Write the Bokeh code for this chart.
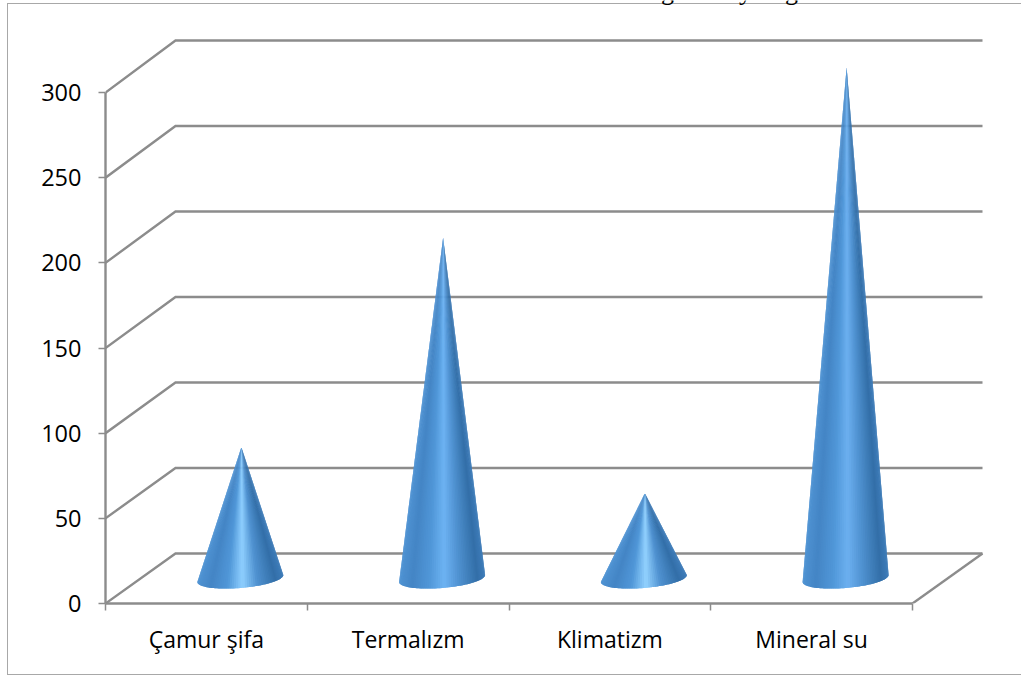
import numpy as np
from bokeh.core.properties import value
from bokeh.embed import file_html
from bokeh.models import FixedTicker, LinearAxis, Range1d
from bokeh.plotting import figure
from bokeh.resources import INLINE

# Chart data
categories = ["Çamur şifa", "Termalızm", "Klimatizm", "Mineral su"]
counts = [77, 200, 50, 300]
y_ticks = [0, 50, 100, 150, 200, 250, 300]
heading_letters = ["g", "y", "g"]

# Scale of the plot area
PX_X = 201.75
PX_Y = 511 / 300
W, H = 1021, 675
LEFT, BOTTOM = 105, 603
GRID = "#8c8c8c"
FRAME = "#a8a8a8"

# Depth of the pseudo-3D box, in data units; the back wall is drawn a touch taller
DX = 70 / PX_X
DY = 50 / PX_Y
BACK = 513 / 511

# Highlight colour of each cone; short cones catch more light
peaks = ["#8ecfff", "#6db3f3", "#92d2ff", "#6cb0f0"]


def hex_rgb(c):
    return np.array([int(c[i:i + 2], 16) for i in (1, 3, 5)], float)


def shade(t, peak):
    stops = [-1.0, -0.7, -0.3, 0.05, 0.4, 0.82, 1.0]
    cols = ["#4f93d3", "#4485c5", "#5097d8", peak, "#4f91d0", "#336fa8", "#3e7cb9"]
    rgb = np.array([hex_rgb(c) for c in cols])
    r = [np.interp(t, stops, rgb[:, k]) for k in range(3)]
    return "#%02x%02x%02x" % tuple(int(round(v)) for v in r)


# Thin chart frame behind the transparent canvas, open on the right
def bar(x, y, w, h):
    return f"linear-gradient({FRAME},{FRAME}) {x}px {y}px / {w}px {h}px no-repeat"


frame_css = ", ".join([
    bar(7, 3, W - 7, 1),
    bar(7, 674, W - 7, 1),
    bar(7, 3, 1, 671),
])

p = figure(
    width=W, height=H, output_backend="svg", toolbar_location=None,
    x_range=Range1d(0, (W - LEFT) / PX_X), y_range=Range1d(0, BOTTOM / PX_Y),
    x_axis_location=None, y_axis_location=None,
    min_border_left=LEFT, min_border_right=0, min_border_top=0, min_border_bottom=H - BOTTOM,
    outline_line_color=None, background_fill_color=None, border_fill_color=None,
    styles={"background": frame_css},
)
p.grid.visible = False

# Walls and floor of the box
n_cat = len(categories)
xs, ys = [], []
for v in y_ticks:
    xs.append([0, DX, n_cat + DX])
    ys.append([v, v * BACK + DY, v * BACK + DY])
xs.append([n_cat, n_cat + DX])
ys.append([0, DY])
p.multi_line(xs, ys, line_color=GRID, line_width=2.4, line_join="miter")

# Cones: overlapping fan of slices from the apex to the lower rim of the base ellipse
A, TILT, B = 43 / PX_X, 3.5 / PX_Y, 9.5 / PX_Y
SHIFT = 1 / PX_X
angles = np.linspace(0, np.pi, 61)
for i, v in enumerate(counts):
    cx = i + 0.5 + DX / 2
    cy = DY / 2
    base_x = cx - SHIFT
    rim_x = base_x + A * np.cos(angles)
    rim_y = cy + TILT * np.cos(angles) - B * np.sin(angles)
    sx, sy, colors = [], [], []
    for j in range(len(angles) - 1):
        k = min(j + 3, len(angles))
        sx.append([cx] + list(rim_x[j:k]))
        sy.append([v + cy] + list(rim_y[j:k]))
        colors.append(shade(((rim_x[j] + rim_x[j + 1]) / 2 - base_x) / A, peaks[i]))
    p.patches(sx, sy, fill_color=colors, line_color=None)

# Value axis
ya = LinearAxis(ticker=FixedTicker(ticks=y_ticks), bounds=(0, 300))
ya.axis_line_color = GRID
ya.axis_line_width = 2.4
ya.major_tick_line_color = GRID
ya.major_tick_line_width = 1.5
ya.major_tick_out = 7
ya.major_tick_in = 0
ya.minor_tick_line_color = None
ya.major_label_standoff = 17
ya.major_label_text_font = "Open Sans"
ya.major_label_text_font_size = "23.5px"
ya.major_label_text_color = "black"
p.add_layout(ya, "left")

# Category axis: ticks sit between categories, labels at their centres
centres = [i + 0.5 for i in range(n_cat)]
xa = LinearAxis(
    ticker=FixedTicker(ticks=centres, minor_ticks=list(range(n_cat + 1))),
    major_label_overrides=dict(zip(centres, categories)),
    bounds=(0, n_cat),
)
xa.axis_line_color = GRID
xa.axis_line_width = 2.4
xa.major_tick_line_color = None
xa.minor_tick_line_color = GRID
xa.minor_tick_line_width = 1.5
xa.minor_tick_out = 7
xa.minor_tick_in = 0
xa.major_label_standoff = 12
xa.major_label_text_font = "Open Sans"
xa.major_label_text_font_size = "23px"
xa.major_label_text_color = "black"
p.add_layout(xa, "below")

# Heading that runs off the top of the page; only its descenders stay in view
head_x = [(667 - LEFT) / PX_X, (745 - LEFT) / PX_X, (791 - LEFT) / PX_X]
head_y = [(BOTTOM + 9) / PX_Y] * 3
p.text(head_x, head_y, text=heading_letters, text_font=value("Liberation Serif"),
       text_font_size="26px", text_color="black", text_align="center", text_baseline="alphabetic")

open("out.html", "w").write(file_html(p, INLINE))
